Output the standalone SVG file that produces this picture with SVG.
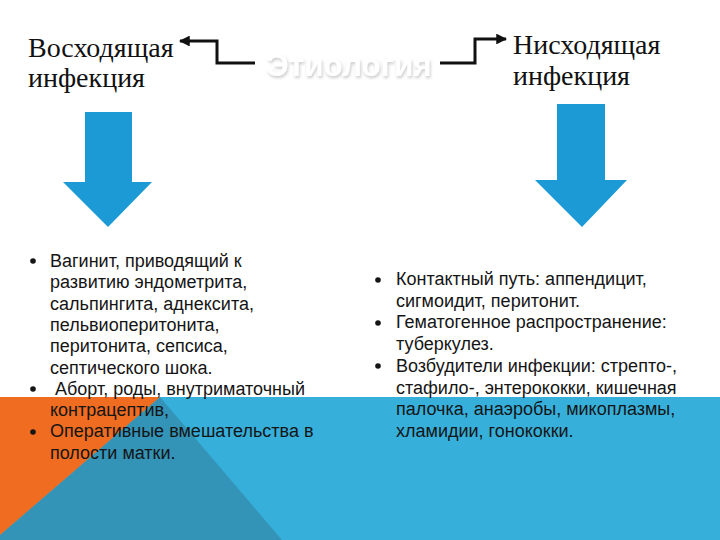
<svg xmlns="http://www.w3.org/2000/svg" width="720" height="540" viewBox="0 0 720 540">
<defs>
<style>
.hdr{font-family:"Liberation Serif","Times New Roman",serif;font-size:28px;fill:#111}
.li{font-family:"Liberation Sans",Arial,sans-serif;font-size:18px;fill:#151515}
.bul{fill:#151515}
.conn{fill:none;stroke:#111;stroke-width:3}
.big{fill:#1b9ad6}
</style>
<marker id="ah" viewBox="0 0 10 10" refX="9" refY="5" markerWidth="3.6" markerHeight="3.6" orient="auto" markerUnits="strokeWidth">
<path d="M0,0 L10,5 L0,10 z" fill="#111"/>
</marker>
<filter id="sh" x="-10%" y="-30%" width="120%" height="160%">
<feGaussianBlur in="SourceAlpha" stdDeviation="1.6" result="b"/>
<feOffset dx="1" dy="2" in="b" result="o"/>
<feFlood flood-color="#a8a8a8" flood-opacity="0.6"/>
<feComposite in2="o" operator="in" result="s"/>
<feMerge><feMergeNode in="s"/><feMergeNode in="SourceGraphic"/></feMerge>
</filter>
</defs>
<rect width="720" height="540" fill="#ffffff"/>
<g id="background">
<rect x="0" y="397" width="720" height="143" fill="#36b0db"/>
<polygon points="160,397 282,540 0,540 0,535" fill="#3394b8"/>
<polygon points="0,397 160,397 0,535" fill="#ef6c21"/>
</g>
<g id="title">
<text x="349" y="76" text-anchor="middle" font-family="'Liberation Sans',Arial,sans-serif" font-weight="bold" font-size="31.5" fill="#ffffff" filter="url(#sh)">Этиология</text>
</g>
<g id="connectors">
<polyline class="conn" points="255,63 217,63 217,41 180,41" marker-end="url(#ah)"/>
<polyline class="conn" points="440,63 475,63 475,39 506,39" marker-end="url(#ah)"/>
</g>
<g id="ascending">
<text class="hdr" x="28" y="57">Восходящая</text>
<text class="hdr" x="28" y="87">инфекция</text>
</g>
<g id="descending">
<text class="hdr" x="513" y="54">Нисходящая</text>
<text class="hdr" x="513" y="85">инфекция</text>
</g>
<g id="arrow-left">
<polygon class="big" points="85,112 132,112 132,182 152,182 108,227 63,182 85,182"/>
</g>
<g id="arrow-right">
<polygon class="big" points="557,104 605,104 605,180 627,180 582,227 535,180 557,180"/>
</g>
<g id="list-left">
<circle class="bul" cx="33" cy="261" r="2.8"/>
<text class="li" x="50" y="267">Вагинит, приводящий к</text>
<text class="li" x="50" y="288.3">развитию эндометрита,</text>
<text class="li" x="50" y="309.6">сальпингита, аднексита,</text>
<text class="li" x="50" y="330.9">пельвиоперитонита,</text>
<text class="li" x="50" y="352.2">перитонита, сепсиса,</text>
<text class="li" x="50" y="373.5">септического шока.</text>
<circle class="bul" cx="33" cy="389" r="2.8"/>
<text class="li" x="50" y="394.8" xml:space="preserve"> Аборт, роды, внутриматочный</text>
<text class="li" x="50" y="416.1">контрацептив,</text>
<circle class="bul" cx="33" cy="432" r="2.8"/>
<text class="li" x="50" y="437.4">Оперативные вмешательства в</text>
<text class="li" x="50" y="458.7">полости матки.</text>
</g>
<g id="list-right">
<circle class="bul" cx="378" cy="280" r="2.8"/>
<text class="li" x="396" y="285">Контактный путь: аппендицит,</text>
<text class="li" x="396" y="306.7">сигмоидит, перитонит.</text>
<circle class="bul" cx="378" cy="323" r="2.8"/>
<text class="li" x="396" y="328.4">Гематогенное распространение:</text>
<text class="li" x="396" y="350.1">туберкулез.</text>
<circle class="bul" cx="378" cy="366" r="2.8"/>
<text class="li" x="396" y="371.8">Возбудители инфекции: стрепто-,</text>
<text class="li" x="396" y="393.5">стафило-, энтерококки, кишечная</text>
<text class="li" x="396" y="415.2">палочка, анаэробы, микоплазмы,</text>
<text class="li" x="396" y="436.9">хламидии, гонококки.</text>
</g>
</svg>
